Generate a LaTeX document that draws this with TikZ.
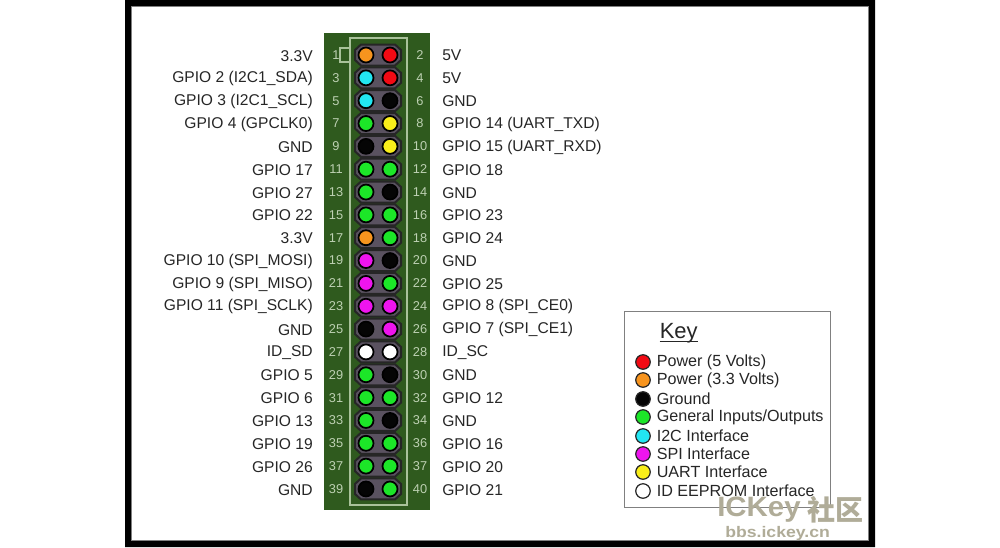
\documentclass[tikz,border=0pt]{standalone}
\usepackage{fontspec}
\setmainfont{Liberation Sans}
\newfontfamily\cjkwm{Noto Sans CJK SC}
\usetikzlibrary{calc}
\definecolor{pcbgreen}{HTML}{2F5A1E}
\definecolor{silk}{HTML}{A9C29A}
\definecolor{housing}{HTML}{5A5260}
\definecolor{housingline}{HTML}{262626}
\definecolor{pinR}{HTML}{F20A14}
\definecolor{pinO}{HTML}{F7941E}
\definecolor{pinK}{HTML}{050505}
\definecolor{pinG}{HTML}{1CE628}
\definecolor{pinC}{HTML}{22E6F2}
\definecolor{pinM}{HTML}{EE14EE}
\definecolor{pinY}{HTML}{F9EE1A}
\definecolor{pinW}{HTML}{FFFFFF}
\definecolor{wmfill}{HTML}{B0AC98}
\tikzset{
  x=0.75pt,y=-0.75pt,
  pinlabel/.style={font=\fontsize{11.7}{13}\selectfont,text=black!85,inner sep=0pt},
  leftlabel/.style={pinlabel,anchor=east},
  rightlabel/.style={pinlabel,anchor=west},
  pinnum/.style={font=\fontsize{9.6}{11}\selectfont,text=silk!75!white,inner sep=0pt},
  pin/.style={circle,minimum size=15*0.75pt,inner sep=0pt,draw=black,line width=1.3pt},
  keydot/.style={circle,minimum size=14.5*0.75pt,inner sep=0pt,draw=black!85,line width=0.9pt},
  keytext/.style={font=\fontsize{12.1}{14}\selectfont,text=black!85,inner sep=0pt,anchor=west},
  wm/.style={text=wmfill,inner sep=0pt},
}
\begin{document}
\begin{tikzpicture}
\useasboundingbox (0,0) rectangle (1000,547);
\fill[white] (0,0) rectangle (1000,547);
% frame
\fill[black,even odd rule] (125,0) rectangle (875,547) (131,6) rectangle (868,540);
\draw[gray,line width=0.6pt] (131,6) rectangle (868,540);
% board
\fill[pcbgreen] (324,33) rectangle (430,510);
\draw[silk,line width=0.9pt] (350,38) rectangle (407,505);
\draw[silk,line width=0.9pt] (350,48) -- (340,48) -- (340,62) -- (350,62);
% pin rows
\def\rowlist{%
 1/2/pinO/pinR/3.3V/5V,
 3/4/pinC/pinR/GPIO 2 (I2C1\_SDA)/5V,
 5/6/pinC/pinK/GPIO 3 (I2C1\_SCL)/GND,
 7/8/pinG/pinY/GPIO 4 (GPCLK0)/GPIO 14 (UART\_TXD),
 9/10/pinK/pinY/GND/GPIO 15 (UART\_RXD),
 11/12/pinG/pinG/GPIO 17/GPIO 18,
 13/14/pinG/pinK/GPIO 27/GND,
 15/16/pinG/pinG/GPIO 22/GPIO 23,
 17/18/pinO/pinG/3.3V/GPIO 24,
 19/20/pinM/pinK/GPIO 10 (SPI\_MOSI)/GND,
 21/22/pinM/pinG/GPIO 9 (SPI\_MISO)/GPIO 25,
 23/24/pinM/pinM/GPIO 11 (SPI\_SCLK)/GPIO 8 (SPI\_CE0),
 25/26/pinK/pinM/GND/GPIO 7 (SPI\_CE1),
 27/28/pinW/pinW/ID\_SD/ID\_SC,
 29/30/pinG/pinK/GPIO 5/GND,
 31/32/pinG/pinG/GPIO 6/GPIO 12,
 33/34/pinG/pinK/GPIO 13/GND,
 35/36/pinG/pinG/GPIO 19/GPIO 16,
 37/38/pinG/pinG/GPIO 26/GPIO 20,
 39/40/pinK/pinG/GND/GPIO 21}
\foreach \a/\b/\ca/\cb/\la/\lb [count=\i from 0] in \rowlist {
  \pgfmathsetmacro{\yy}{55+22.84*\i}
  \filldraw[fill=housing,draw=housingline,line width=1.5pt]
    (361,\yy-10.5) -- (395,\yy-10.5) -- (401,\yy-5) -- (401,\yy+5) -- (395,\yy+10.5)
    -- (361,\yy+10.5) -- (355,\yy+5) -- (355,\yy-5) -- cycle;
  \node[pin,fill=\ca] (p\a) at (366,\yy) {};
  \node[pin,fill=\cb] (p\b) at (390,\yy) {};
  \node[leftlabel] (l\a) at (313,\yy+0.7) {\la};
  \node[rightlabel] (l\b) at (442,\yy+0.7) {\lb};
}
% pin numbers (as printed: the last-but-one row reads 37 on both sides)
\foreach \a/\b [count=\i from 0] in {1/2,3/4,5/6,7/8,9/10,11/12,13/14,15/16,17/18,19/20,21/22,23/24,25/26,27/28,29/30,31/32,33/34,35/36,37/37,39/40} {
  \pgfmathsetmacro{\yy}{55+22.84*\i}
  \node[pinnum] (na\i) at (336,\yy) {\a};
  \node[pinnum] (nb\i) at (420,\yy) {\b};
}
% key
\filldraw[fill=white,draw=gray,line width=0.6pt] (624,311) rectangle (830,507);
\node[inner sep=0pt,anchor=base west,font=\fontsize{16.5}{18}\selectfont,text=black!85] (keytitle) at (659.5,338) {Key};
\draw[black!85,line width=0.8pt] ($(keytitle.base west)+(0,3.5)$) -- ($(keytitle.base east)+(0,3.5)$);
\foreach \c/\t/\yy [count=\i] in {pinR/Power (5 Volts)/362,pinO/Power (3.3 Volts)/380,pinK/Ground/399,pinG/General Inputs\slash Outputs/417,pinC/I2C Interface/436,pinM/SPI Interface/454,pinY/UART Interface/472,pinW/ID EEPROM Interface/491} {
  \node[keydot,fill=\c] (kd\i) at (643,\yy) {};
  \node[keytext] (kt\i) at (656.5,\yy) {\t};
}
% watermark
\node[wm,anchor=west,font=\bfseries\fontsize{21}{23}\selectfont,xscale=1.05] (wm1) at (717,510) {ICKey};
\node[wm,anchor=west,font=\cjkwm\bfseries\fontsize{21}{23}\selectfont] (wm2) at (807,510) {社区};
\node[wm,anchor=west,font=\bfseries\fontsize{11.5}{13}\selectfont,xscale=1.15] (wm3) at (725,534) {bbs.ickey.cn};
\end{tikzpicture}
\end{document}
